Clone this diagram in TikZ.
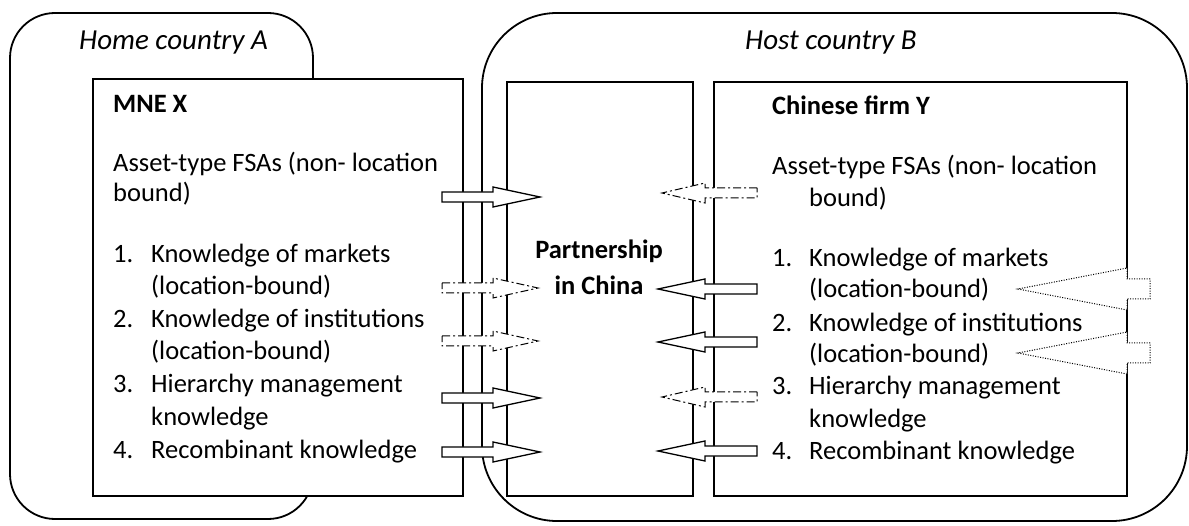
\documentclass[tikz,border=0pt]{standalone}
\usepackage{fontspec}
\setmainfont{Carlito}
\newcommand{\txtsize}{\fontsize{26.5}{32}\selectfont}
\newcommand{\lblsize}{\fontsize{29}{35}\selectfont}

\begin{document}
\begin{tikzpicture}[x=1pt, y=-1pt,
    region/.style = {draw, line width=1.8pt, fill=white},
    box/.style = {draw, line width=1.6pt, fill=white, inner sep=0pt, anchor=north west},
    txt/.style = {anchor=base west, inner sep=0pt, font=\txtsize},
    title/.style = {txt, font=\txtsize\bfseries},
    flow/.style = {draw, line width=1.3pt, fill=white},
    flowdash/.style = {flow, line width=1pt, dash pattern=on 8pt off 3pt on 2pt off 3pt},
    flowdot/.style = {draw, line width=1pt, fill=white, dash pattern=on 1pt off 1.5pt}]

    \useasboundingbox (0,0) rectangle (1189,526);

    % Draw the countries
    \draw[region, rounded corners=45pt] (10,13) rectangle (313,519);
    \draw[region, rounded corners=75pt] (482,13) rectangle (1187,521);
    \node (home) [anchor=base west, inner sep=0pt, font=\lblsize\itshape] at (79,50) {Home country A};
    \node (host) [anchor=base west, inner sep=0pt, font=\lblsize\itshape] at (745,50) {Host country B};

    % Draw the firms and the partnership
    \node (mnex) [box, minimum width=370pt, minimum height=417pt] at (92,78) {};
    \node (jv) [box, minimum width=186pt, minimum height=414pt] at (506,81) {};
    \node (firmy) [box, minimum width=413pt, minimum height=414pt] at (713,81) {};

    % Texts of MNE X
    \node (xtitle) [title] at (113,113) {MNE X};
    \node (xfsa) [txt] at (113,172) {Asset-type FSAs (non- location};
    \node (xbound) [txt] at (113,202) {bound)};
    \foreach \n/\yy in {1/263, 2/328, 3/393, 4/458}
        \node (xnum\n) [txt] at (113,\yy) {\n.};
    \foreach \n/\yy/\line in {1/263/Knowledge of markets, 2/295/(location-bound),
        3/328/Knowledge of institutions, 4/360/(location-bound),
        5/393/Hierarchy management, 6/425/knowledge, 7/458/Recombinant knowledge}
        \node (xline\n) [txt] at (151,\yy) {\line};

    % Texts of Chinese firm Y
    \node (ytitle) [title] at (772,115) {Chinese firm Y};
    \node (yfsa) [txt] at (772,175) {Asset-type FSAs (non- location};
    \node (ybound) [txt] at (809,207) {bound)};
    \foreach \n/\yy in {1/267, 2/332, 3/395, 4/460}
        \node (ynum\n) [txt] at (772,\yy) {\n.};
    \foreach \n/\yy/\line in {1/267/Knowledge of markets, 2/298/(location-bound),
        3/332/Knowledge of institutions, 4/363/(location-bound),
        5/395/Hierarchy management, 6/428/knowledge, 7/460/Recombinant knowledge}
        \node (yline\n) [txt] at (809,\yy) {\line};

    % Partnership label
    \node (pship) [anchor=base, inner sep=0pt, font=\txtsize\bfseries] at (599,259) {Partnership};
    \node (pchina) [anchor=base, inner sep=0pt, font=\txtsize\bfseries] at (599,295) {in China};

    % Flows from MNE X
    \foreach \y in {197, 398, 452}
        \draw[flow] (442,\y) ++(0,-5) -- ++(51,0) -- ++(0,-5) -- ++(47,10)
            -- ++(-47,10) -- ++(0,-5) -- ++(-51,0) -- cycle;
    \foreach \y in {288, 341}
        \draw[flowdash] (442,\y) ++(0,-5) -- ++(51,0) -- ++(0,-5) -- ++(45,10)
            -- ++(-45,10) -- ++(0,-5) -- ++(-51,0) -- cycle;

    % Flows from Chinese firm Y
    \foreach \y in {289, 342, 451}
        \draw[flow] (757,\y) ++(0,-5) -- ++(-52,0) -- ++(0,-5) -- ++(-47,10)
            -- ++(47,10) -- ++(0,-5) -- ++(52,0) -- cycle;
    \foreach \y in {193, 397}
        \draw[flowdash] (757,\y) ++(0,-5) -- ++(-52,0) -- ++(0,-5) -- ++(-43,10)
            -- ++(43,10) -- ++(0,-5) -- ++(52,0) -- cycle;

    % Flows from host country B into firm Y
    \foreach \y in {289, 353}
        \draw[flowdot] (1150,\y) ++(0,-10) -- ++(-23,0) -- ++(0,-11) -- ++(-109,21)
            -- ++(109,21) -- ++(0,-11) -- ++(23,0) -- cycle;

\end{tikzpicture}
\end{document}
